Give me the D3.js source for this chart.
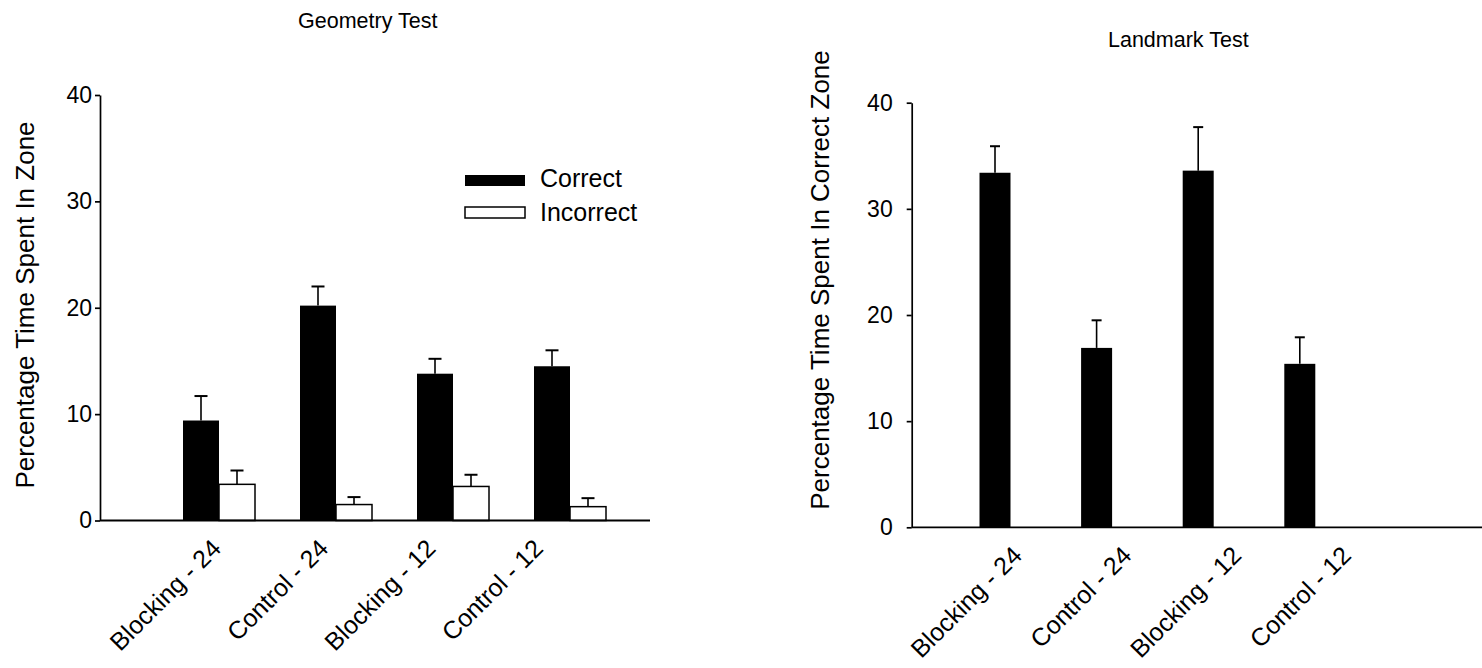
<html>
<head>
<meta charset="utf-8">
<script src="https://d3js.org/d3.v7.min.js"></script>
<style>
  body { margin: 0; background: #fff; }
  text { font-family: "Liberation Sans", Arial, sans-serif; fill: #000; }
</style>
</head>
<body>
<svg id="fig" width="1482" height="668"></svg>
<script>
// data
var groups = ["Blocking - 24", "Control - 24", "Blocking - 12", "Control - 12"];
var yTicks = [0, 10, 20, 30, 40];

var geoCorrect      = [9.4, 20.2, 13.8, 14.5];
var geoCorrectErr   = [2.3, 1.8, 1.4, 1.5];
var geoIncorrect    = [3.4, 1.5, 3.2, 1.3];
var geoIncorrectErr = [1.3, 0.7, 1.1, 0.8];

var landCorrect    = [33.4, 16.9, 33.6, 15.4];
var landCorrectErr = [2.5, 2.6, 4.1, 2.5];

var tickFont = 23;
var labelFont = 25;
var yLabelFont = 26;
var titleFont = 21.5;

var svg = d3.select("#fig");
svg.append("rect").attr("width", 1482).attr("height", 668).attr("fill", "#fff");

function yAxis(g, y, pad) {
  g.call(d3.axisLeft(y).tickValues(yTicks).tickSize(5).tickSizeOuter(0).tickPadding(pad));
  g.select(".domain").attr("stroke-width", 1.7);
  g.selectAll(".tick line").attr("stroke-width", 1.7);
  g.selectAll("text").attr("font-size", tickFont).attr("font-family", "Liberation Sans, Arial, sans-serif").attr("fill", "#000");
}

function xLabels(g, sc) {
  g.call(d3.axisBottom(sc).tickSize(0));
  g.select(".domain").remove();
  g.selectAll("text")
    .attr("font-size", labelFont)
    .attr("font-family", "Liberation Sans, Arial, sans-serif")
    .attr("fill", "#000")
    .attr("y", 0).attr("dy", 0).attr("x", 0)
    .attr("text-anchor", "end")
    .attr("transform", "rotate(-45)");
}

function errBars(g, xs, vals, errs, y, cap) {
  g.selectAll(null).data(vals).enter().append("line")
    .attr("x1", function(d, i) { return xs(i); })
    .attr("x2", function(d, i) { return xs(i); })
    .attr("y1", function(d) { return y(d); })
    .attr("y2", function(d, i) { return y(d + errs[i]); })
    .attr("stroke", "#000").attr("stroke-width", 1.6);
  g.selectAll(null).data(vals).enter().append("line")
    .attr("x1", function(d, i) { return xs(i) - cap; })
    .attr("x2", function(d, i) { return xs(i) + cap; })
    .attr("y1", function(d, i) { return y(d + errs[i]); })
    .attr("y2", function(d, i) { return y(d + errs[i]); })
    .attr("stroke", "#000").attr("stroke-width", 2);
}

// ---------- Geometry Test ----------
var gy = d3.scaleLinear().domain([0, 40]).range([520.5, 95]);
var gx = d3.scaleBand().domain(groups).range([160.5, 628.5]);
var gLab = d3.scalePoint().domain(groups).range([222, 544]);
var bw = 36;

var left = svg.append("g");

left.append("text")
  .attr("x", 298).attr("y", 28)
  .attr("font-size", titleFont)
  .text("Geometry Test");

left.append("text")
  .attr("transform", "translate(34," + 305 + ") rotate(-90)")
  .attr("text-anchor", "middle")
  .attr("font-size", yLabelFont)
  .text("Percentage Time Spent In Zone");

left.selectAll(".bc").data(geoCorrect).enter().append("rect")
  .attr("x", function(d, i) { return gx(groups[i]) + gx.bandwidth() / 2 - bw; })
  .attr("y", function(d) { return gy(d); })
  .attr("width", bw)
  .attr("height", function(d) { return gy(0) - gy(d); })
  .attr("fill", "#000");

left.selectAll(".bi").data(geoIncorrect).enter().append("rect")
  .attr("x", function(d, i) { return gx(groups[i]) + gx.bandwidth() / 2; })
  .attr("y", function(d) { return gy(d); })
  .attr("width", bw)
  .attr("height", function(d) { return gy(0) - gy(d); })
  .attr("fill", "#fff").attr("stroke", "#000").attr("stroke-width", 1.5);

errBars(left, function(i) { return gx(groups[i]) + gx.bandwidth() / 2 - bw / 2; }, geoCorrect, geoCorrectErr, gy, 6.5);
errBars(left, function(i) { return gx(groups[i]) + gx.bandwidth() / 2 + bw / 2; }, geoIncorrect, geoIncorrectErr, gy, 6.5);

left.append("g").attr("transform", "translate(100,0)").call(yAxis, gy, 3);
left.append("line")
  .attr("x1", 100).attr("x2", 650)
  .attr("y1", gy(0)).attr("y2", gy(0))
  .attr("stroke", "#000").attr("stroke-width", 1.8);

left.append("g").attr("transform", "translate(0,550)").call(xLabels, gLab);

// legend
var legend = left.append("g").attr("transform", "translate(465,175)");
legend.append("rect").attr("x", 0).attr("y", 0).attr("width", 60).attr("height", 11).attr("fill", "#000");
legend.append("rect").attr("x", 0).attr("y", 32).attr("width", 60).attr("height", 11)
  .attr("fill", "#fff").attr("stroke", "#000").attr("stroke-width", 1.5);
legend.append("text").attr("x", 75).attr("y", 12).attr("font-size", labelFont).text("Correct");
legend.append("text").attr("x", 75).attr("y", 46).attr("font-size", labelFont).text("Incorrect");

// ---------- Landmark Test ----------
var ly = d3.scaleLinear().domain([0, 40]).range([527.3, 102.7]);
var lx = d3.scaleBand().domain(groups).range([944.2, 1350.6]);
var lLab = d3.scalePoint().domain(groups).range([1023, 1352]);
var lbw = 31;

var right = svg.append("g");

right.append("text")
  .attr("x", 1108).attr("y", 47)
  .attr("font-size", titleFont)
  .text("Landmark Test");

right.append("text")
  .attr("transform", "translate(829," + 280 + ") rotate(-90)")
  .attr("text-anchor", "middle")
  .attr("font-size", yLabelFont)
  .text("Percentage Time Spent In Correct Zone");

right.selectAll(".lc").data(landCorrect).enter().append("rect")
  .attr("x", function(d, i) { return lx(groups[i]) + lx.bandwidth() / 2 - lbw / 2; })
  .attr("y", function(d) { return ly(d); })
  .attr("width", lbw)
  .attr("height", function(d) { return ly(0) - ly(d); })
  .attr("fill", "#000");

errBars(right, function(i) { return lx(groups[i]) + lx.bandwidth() / 2; }, landCorrect, landCorrectErr, ly, 5);

right.append("g").attr("transform", "translate(911.7,0)").call(yAxis, ly, 14);
right.append("line")
  .attr("x1", 911.7).attr("x2", 1482)
  .attr("y1", ly(0)).attr("y2", ly(0))
  .attr("stroke", "#000").attr("stroke-width", 1.8);

right.append("g").attr("transform", "translate(0,557)").call(xLabels, lLab);
</script>
</body>
</html>
